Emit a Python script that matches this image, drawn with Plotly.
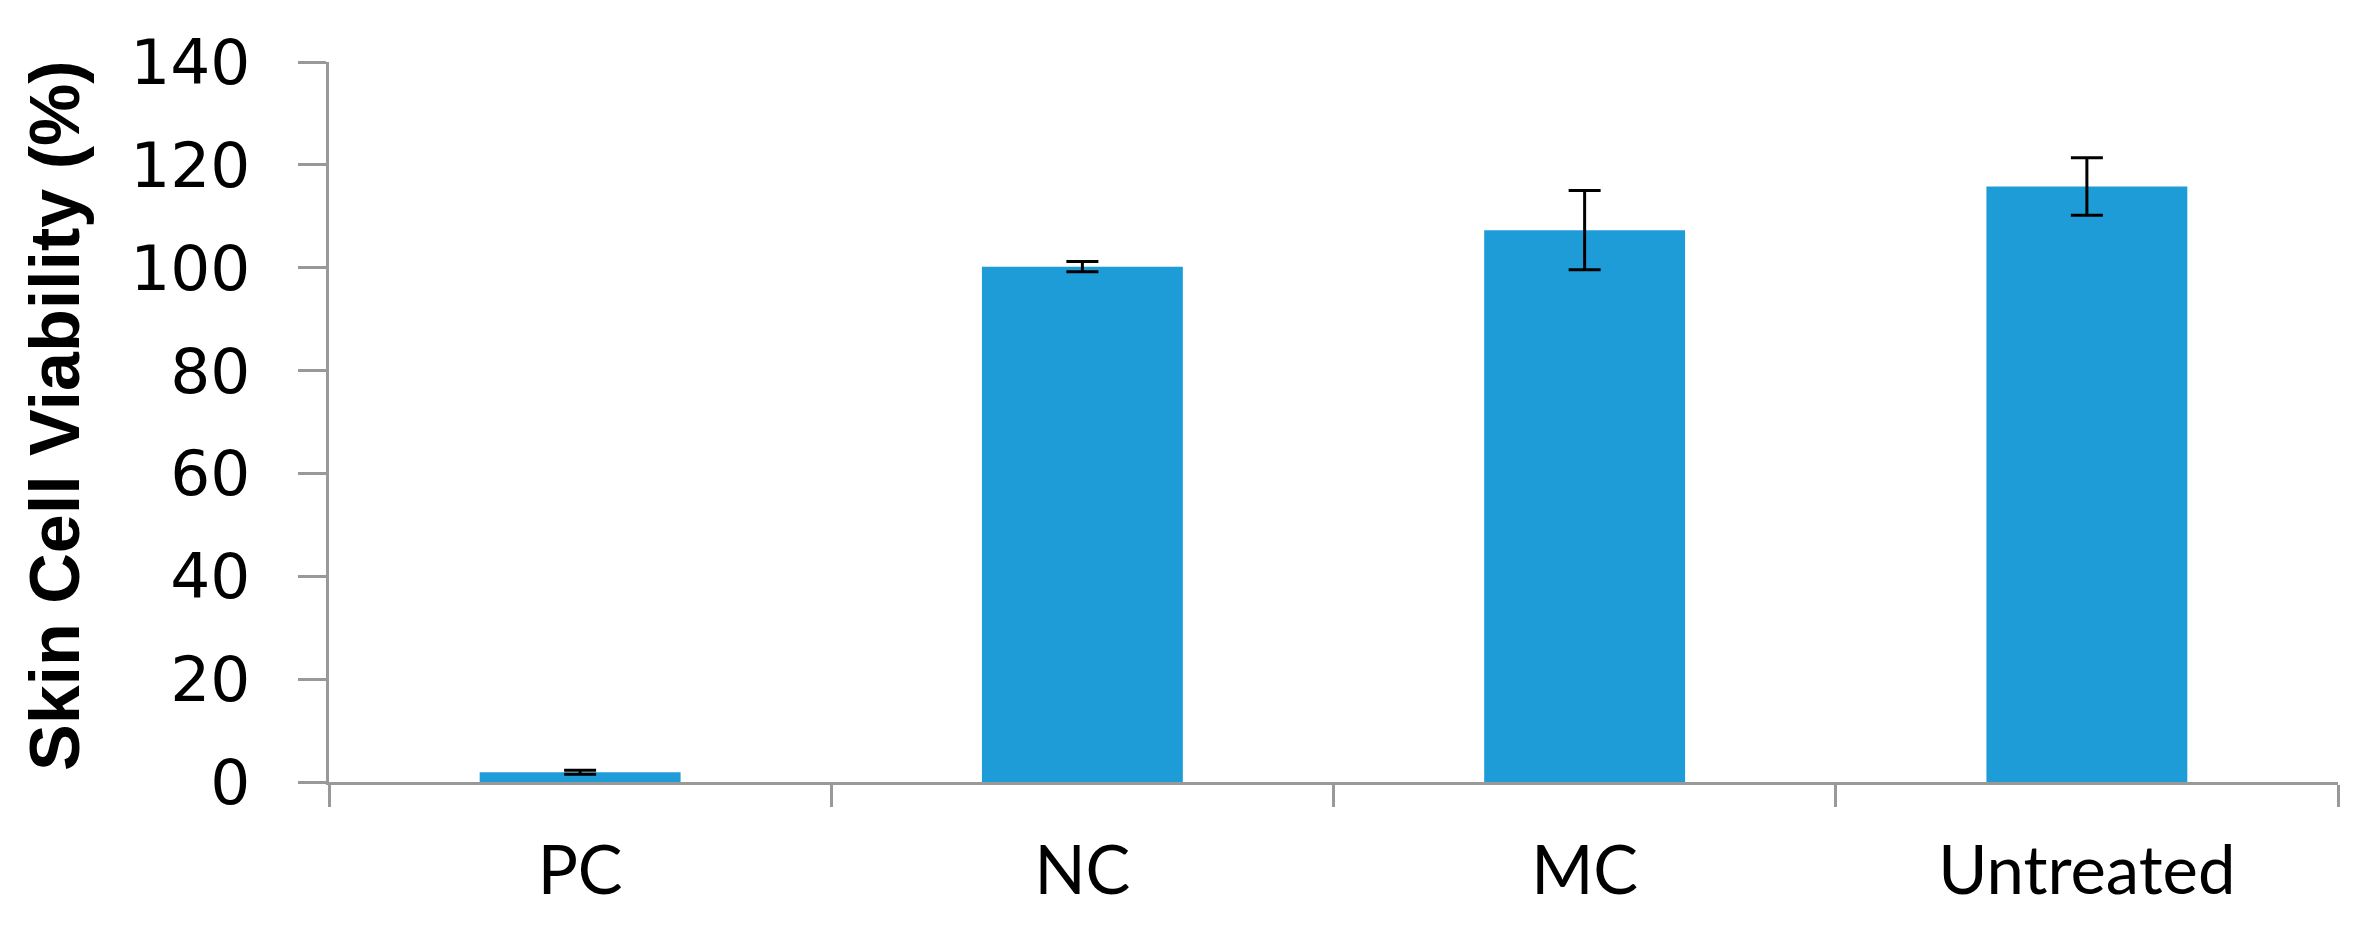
import plotly.graph_objects as go

categories = ["PC", "NC", "MC", "Untreated"]
viability = [1.9, 100.2, 107.3, 115.8]
errors = [0.4, 1.0, 7.7, 5.6]
y_ticks = [0, 20, 40, 60, 80, 100, 120, 140]

L, R, T, B = 321, 31, 54, 165
W, H = 2361, 939
plot_w = W - L - R
plot_h = H - T - B

fig = go.Figure()
fig.add_trace(go.Bar(
    x=categories,
    y=viability,
    marker=dict(color="#1E9CD8", line=dict(width=0)),
    error_y=dict(type="data", array=errors, visible=True,
                 color="black", thickness=3, width=16),
    width=0.4,
))

fig.add_annotation(
    text="<b>Skin Cell Viability (%)</b>",
    xref="paper", yref="paper",
    x=-(L - 47) / plot_w, y=1 - (408 - T) / plot_h,
    xanchor="center", yanchor="middle",
    textangle=-90, showarrow=False,
    font=dict(family="Liberation Sans", size=70, color="black"),
)

fig.update_layout(
    width=W, height=H,
    margin=dict(l=L, r=R, t=T, b=B),
    paper_bgcolor="white", plot_bgcolor="white",
    showlegend=False,
    xaxis=dict(
        showline=True, linecolor="#999999", linewidth=3,
        ticks="outside", tickson="boundaries", ticklen=22,
        tickcolor="#999999", tickwidth=3,
        tickfont=dict(family="Lato", size=67, color="black"),
        ticklabelstandoff=29,
        showgrid=False,
    ),
    yaxis=dict(
        range=[0, 140], tickvals=y_ticks,
        showline=True, linecolor="#999999", linewidth=3,
        ticks="outside", ticklen=28, tickcolor="#999999", tickwidth=3,
        tickfont=dict(family="DejaVu Sans", size=63, color="black"),
        ticklabelstandoff=35,
        showgrid=False, zeroline=False,
    ),
)

fig.write_html("out.html")
